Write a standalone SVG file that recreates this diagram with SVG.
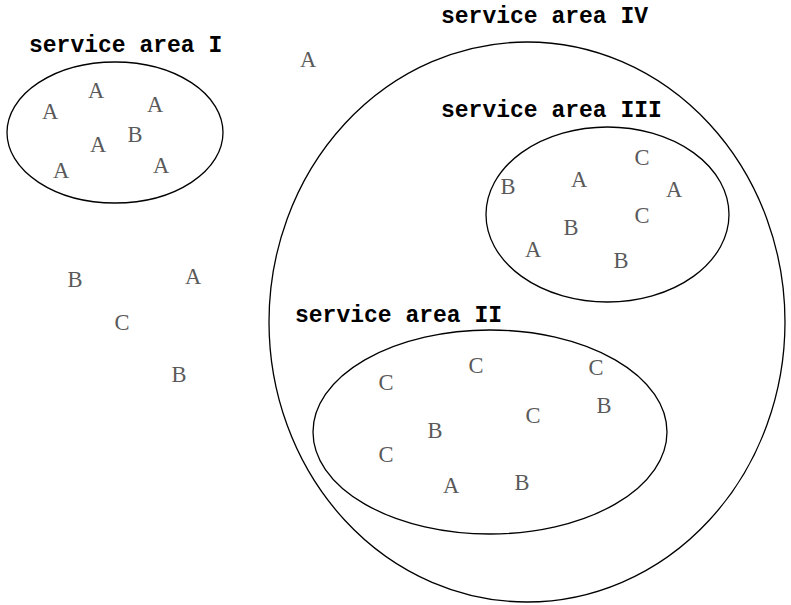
<svg xmlns="http://www.w3.org/2000/svg" width="791" height="605" viewBox="0 0 791 605">
<style>
.area{fill:none;stroke:#000;stroke-width:1.3}
.title{font-family:"Liberation Mono","Courier New",monospace;font-weight:bold;font-size:23px;fill:#000}
.pt{font-family:"Liberation Serif","Times New Roman",serif;font-size:22.5px;fill:#5a5a5a;text-anchor:middle}
</style>
<rect width="791" height="605" fill="#fff"/>
<g id="area-IV">
<ellipse class="area" cx="527" cy="322" rx="258" ry="280"/>
<text class="title" x="441" y="23">service area IV</text>
</g>
<g id="area-I">
<ellipse class="area" cx="115" cy="132.5" rx="108" ry="70.5"/>
<text class="title" x="29" y="52">service area I</text>
<text class="pt" x="96" y="98">A</text>
<text class="pt" x="50" y="119">A</text>
<text class="pt" x="155" y="112">A</text>
<text class="pt" x="135" y="142">B</text>
<text class="pt" x="98" y="152">A</text>
<text class="pt" x="61" y="178">A</text>
<text class="pt" x="161" y="173">A</text>
</g>
<g id="area-III">
<ellipse class="area" cx="607.5" cy="214.5" rx="121.5" ry="87.5"/>
<text class="title" x="441" y="117">service area III</text>
<text class="pt" x="642" y="165">C</text>
<text class="pt" x="508" y="194">B</text>
<text class="pt" x="579" y="187">A</text>
<text class="pt" x="674" y="197">A</text>
<text class="pt" x="642" y="223">C</text>
<text class="pt" x="571" y="235">B</text>
<text class="pt" x="533" y="257">A</text>
<text class="pt" x="621" y="268">B</text>
</g>
<g id="area-II">
<ellipse class="area" cx="490" cy="432" rx="177" ry="102"/>
<text class="title" x="295" y="322">service area II</text>
<text class="pt" x="386" y="390">C</text>
<text class="pt" x="476" y="373">C</text>
<text class="pt" x="596" y="375">C</text>
<text class="pt" x="604" y="413">B</text>
<text class="pt" x="533" y="423">C</text>
<text class="pt" x="435" y="438">B</text>
<text class="pt" x="386" y="462">C</text>
<text class="pt" x="451" y="493">A</text>
<text class="pt" x="522" y="490">B</text>
</g>
<g id="outside">
<text class="pt" x="308" y="67">A</text>
<text class="pt" x="75" y="287">B</text>
<text class="pt" x="193" y="284">A</text>
<text class="pt" x="122" y="330">C</text>
<text class="pt" x="179" y="382">B</text>
</g>
<g id="connectors"></g>
</svg>
